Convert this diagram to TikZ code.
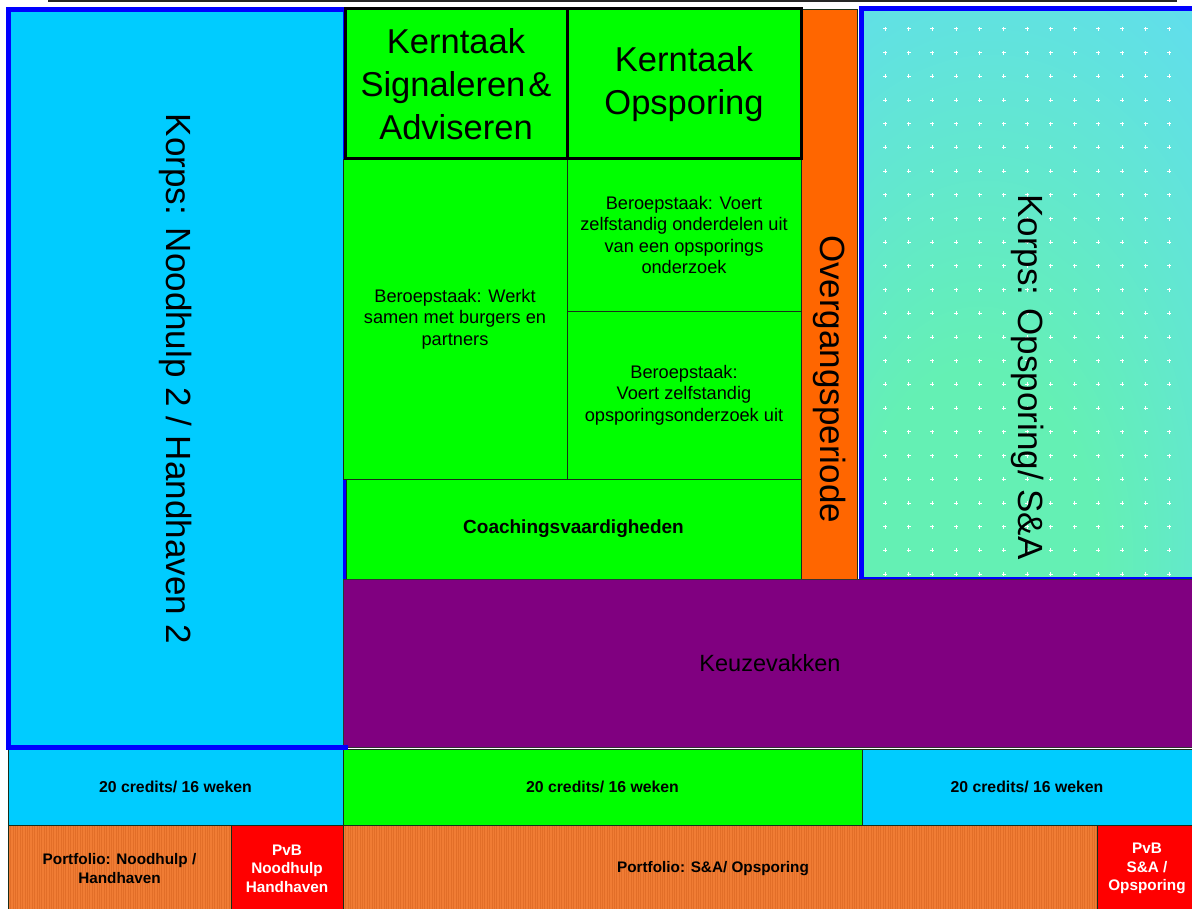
\documentclass[tikz,border=0pt]{standalone}
\usepackage{fontspec}
\setmainfont{Liberation Sans}
\definecolor{cyanc}{RGB}{0,204,255}
\definecolor{bluec}{RGB}{0,0,255}
\definecolor{greenc}{RGB}{0,255,0}
\definecolor{orangec}{RGB}{255,102,0}
\definecolor{purplec}{RGB}{128,0,128}
\definecolor{redc}{RGB}{255,0,0}
\definecolor{portc}{RGB}{240,124,52}
\definecolor{stripec}{RGB}{226,110,40}
\definecolor{gradg}{RGB}{100,240,180}
\definecolor{gradc}{RGB}{96,220,242}
\definecolor{edgec}{RGB}{25,45,25}
\pgfdeclareradialshading{rboxshade}{\pgfpoint{-10bp}{-30bp}}{color(0bp)=(gradg); color(18bp)=(gradg); color(52bp)=(gradc); color(100bp)=(gradc)}
\tikzset{
  cell/.style={inner sep=0pt, outer sep=0pt, align=center, anchor=center},
  thinb/.style={draw=edgec, line width=0.9pt},
  kern/.style={cell, fill=greenc, draw=black, line width=3pt, font=\fontsize{34.5}{43}\selectfont},
  beroep/.style={cell, thinb, fill=greenc, font=\fontsize{18.2}{21.5}\selectfont},
  bigrot/.style={inner sep=0pt, rotate=-90, font=\fontsize{35}{42}\selectfont},
  credit/.style={cell, thinb, font=\bfseries\fontsize{15.8}{19}\selectfont},
  port/.style={cell, thinb, fill=portc, font=\bfseries\fontsize{15.3}{19}\selectfont,
    path picture={\foreach \i in {0,2.4,...,760} \draw[stripec, line width=0.6pt]
      ([xshift=\i pt]path picture bounding box.south west) -- ([xshift=\i pt]path picture bounding box.north west);}},
  pvb/.style={cell, thinb, fill=redc, text=white, font=\bfseries\fontsize{15.3}{18.5}\selectfont},
}
\begin{document}
\begin{tikzpicture}[x=1pt,y=-1pt]
\clip (0,0) rectangle (1192,909);
\fill[white] (0,0) rectangle (1192,909);
% top line
\coordinate (tl) at (48,1);
\coordinate (tr) at (1177,1);
\draw[black!85, line width=2pt] (tl) -- (tr);
% left big box
\node[cell, fill=cyanc, draw=bluec, line width=5pt, minimum width=337pt, minimum height=737pt] (leftbox) at (176.5,378.5) {};
\node[bigrot] (ltext) at (176,379) {Korps: Noodhulp 2 / Handhaven 2};
% right big box
\node[cell, shading=rboxshade, draw=bluec, line width=5pt, minimum width=344pt, minimum height=570pt] (rightbox) at (1033,294) {};
\foreach \k in {0,...,12}{
  \foreach \j in {0,...,23}{
    \pgfmathsetmacro{\px}{885+23.7*\k}
    \pgfmathsetmacro{\py}{29+23.7*\j}
    \draw[white, line width=1pt] (\px-2,\py) -- (\px+2,\py) (\px,\py-2) -- (\px,\py+2);
  }
}
\node[bigrot] (rtext) at (1028,377) {Korps: Opsporing/ S\&A};
% orange column
\node[cell, fill=orangec, thinb, minimum width=56pt, minimum height=570pt] (overg) at (829,294) {};
\node[bigrot] (otext) at (830,379) {Overgangsperiode};
% beroepstaak cells
\node[beroep, minimum width=224pt, minimum height=320pt] (b1) at (455,319) {Beroepstaak: Werkt\\samen met burgers en\\partners};
\node[beroep, minimum width=234pt, minimum height=152pt] (b2) at (684,235) {Beroepstaak: Voert\\zelfstandig onderdelen uit\\van een opsporings\\onderzoek};
\node[beroep, minimum width=234pt, minimum height=168pt] (b3) at (684,395) {Beroepstaak:\\Voert zelfstandig\\opsporingsonderzoek uit};
\node[cell, thinb, fill=greenc, minimum width=455pt, minimum height=100pt, font=\bfseries\fontsize{19}{22}\selectfont] (coach) at (573.5,529) {Coachingsvaardigheden};
% kerntaak
\node[kern, minimum width=222pt, minimum height=150pt] (k1) at (456,84) {Kerntaak\\Signaleren\hspace{3pt}\&\\Adviseren};
\node[kern, minimum width=234pt, minimum height=150pt] (k2) at (684,84) {Kerntaak\\Opsporing};
% keuzevakken
\node[cell, fill=purplec, draw=black!80, line width=0.9pt, minimum width=854pt, minimum height=168pt, font=\fontsize{23.5}{28}\selectfont] (keuze) at (770,663) {Keuzevakken};
% credits row
\node[credit, fill=cyanc, minimum width=335pt, minimum height=76pt] (c1) at (175.5,787) {20 credits/ 16 weken};
\node[credit, fill=greenc, minimum width=519pt, minimum height=76pt] (c2) at (602.5,787) {20 credits/ 16 weken};
\node[credit, fill=cyanc, minimum width=335pt, minimum height=76pt] (c3) at (1029.5,787) {\hspace*{-5pt}20 credits/ 16 weken};
% left box bottom border over the credits
\coordinate (lbl) at (8,747);
\coordinate (lbr) at (348,747);
\draw[bluec, line width=5pt] (lbl) -- (lbr);
% portfolio row
\node[port, minimum width=223pt, minimum height=87pt] (p1) at (119.5,868.5) {Portfolio: Noodhulp /\\Handhaven};
\node[pvb, minimum width=112pt, minimum height=87pt] (v1) at (287,868.5) {PvB\\Noodhulp\\Handhaven};
\node[port, minimum width=754pt, minimum height=87pt] (p2) at (720,868.5) {\hspace*{-14pt}Portfolio: S\&A/ Opsporing};
\node[pvb, minimum width=100pt, minimum height=87pt] (v2) at (1147,868.5) {PvB\\S\&A /\\Opsporing};
\end{tikzpicture}
\end{document}
